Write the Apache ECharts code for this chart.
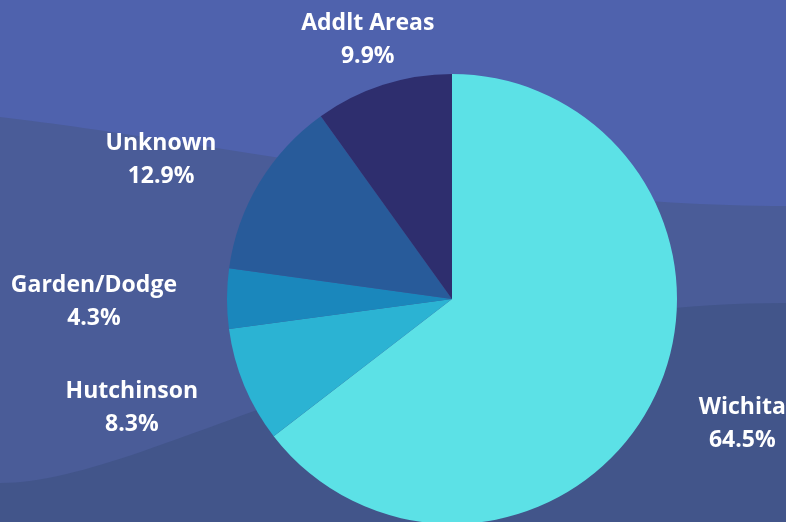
<!DOCTYPE html>
<html>
<head>
<meta charset="utf-8">
<title>Pie</title>
<script src="https://cdn.jsdelivr.net/npm/echarts@6/dist/echarts.min.js"></script>
<style>
  html, body { margin: 0; padding: 0; background: #4f62ad; }
  #chart { width: 786px; height: 522px; }
</style>
</head>
<body>
<div id="chart"></div>
<script>
// data
const categories = ['Wichita', 'Hutchinson', 'Garden/Dodge', 'Unknown', 'Addlt Areas'];
const shares = [64.5, 8.3, 4.3, 12.9, 9.9];
const sliceColors = ['#5ce1e6', '#2bb3d3', '#1a87bc', '#285b9a', '#2e2e6e'];

const chart = echarts.init(document.getElementById('chart'), null, { renderer: 'canvas' });

const pieCenter = [452, 299];
const pieRadius = 225;
const labelRadius = 275;
const total = shares.reduce((s, v) => s + v, 0);

// mid angle of each slice, clockwise from 12 o'clock
const midAngles = [];
let acc = 0;
shares.forEach(v => {
  midAngles.push((acc + v / 2) / total * Math.PI * 2);
  acc += v;
});

// background wave: cubic curve across the page, closed down to the bottom edge
function wave(p0, p1, p2, p3) {
  const pts = [];
  for (let i = 0; i <= 60; i++) {
    const t = i / 60, u = 1 - t;
    pts.push([
      u * u * u * p0[0] + 3 * u * u * t * p1[0] + 3 * u * t * t * p2[0] + t * t * t * p3[0],
      u * u * u * p0[1] + 3 * u * u * t * p1[1] + 3 * u * t * t * p2[1] + t * t * t * p3[1]
    ]);
  }
  pts.push([786, 522], [0, 522]);
  return pts;
}

const seriesData = categories.map((name, i) => ({
  name: name,
  value: shares[i],
  itemStyle: { color: sliceColors[i] }
}));

const option = {
  backgroundColor: '#4f62ad',
  animation: false,
  graphic: [
    {
      type: 'polygon',
      z: 0,
      silent: true,
      shape: { points: wave([0, 117], [200, 140], [500, 205], [786, 206]) },
      style: { fill: '#4a5c98' }
    },
    {
      type: 'polygon',
      z: 0,
      silent: true,
      shape: { points: wave([0, 483], [150, 483], [400, 303], [786, 303]) },
      style: { fill: '#42558a' }
    }
  ],
  series: [
    {
      type: 'pie',
      center: pieCenter,
      radius: pieRadius,
      startAngle: 90,
      clockwise: true,
      avoidLabelOverlap: false,
      emphasis: { disabled: true },
      itemStyle: { borderWidth: 0 },
      label: {
        show: true,
        position: 'outside',
        formatter: '{b}\n{c}%',
        color: '#ffffff',
        fontFamily: 'Open Sans',
        fontWeight: 'bold',
        fontSize: 23,
        lineHeight: 33
      },
      labelLine: { show: false },
      // side labels hang off the anchor point, lines centred inside the block
      labelLayout: function (params) {
        const a = midAngles[params.dataIndex];
        const dx = Math.sin(a);
        const dy = -Math.cos(a);
        const w = params.labelRect.width;
        let x = pieCenter[0] + dx * labelRadius;
        if (dx > 0.5) x += w / 2;
        else if (dx < -0.5) x -= w / 2;
        return {
          x: x,
          y: pieCenter[1] + dy * labelRadius + 3,
          align: 'center',
          verticalAlign: 'middle'
        };
      },
      data: seriesData
    }
  ]
};

chart.setOption(option);
</script>
</body>
</html>
